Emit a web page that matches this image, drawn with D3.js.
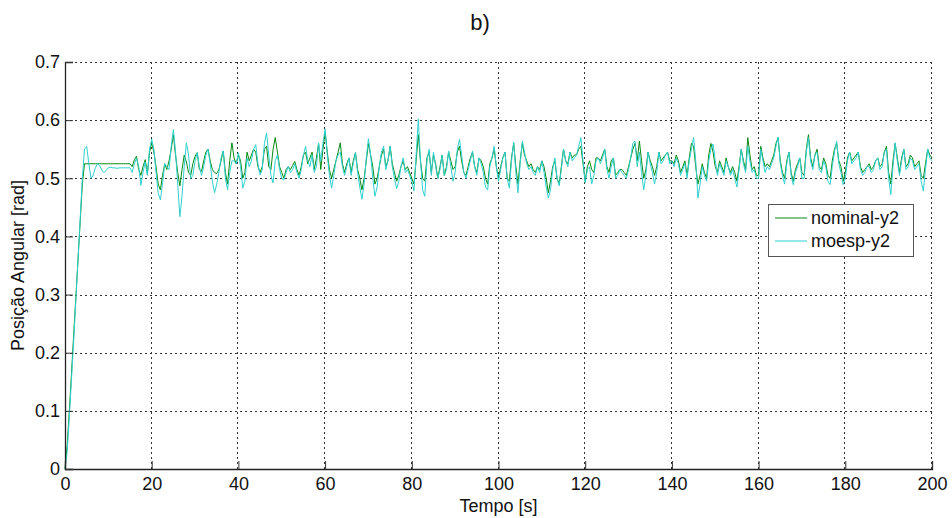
<!DOCTYPE html>
<html>
<head>
<meta charset="utf-8">
<script src="https://cdn.jsdelivr.net/npm/d3@7"></script>
<style>
  body { margin: 0; background: #fff; }
  text { font-family: "Liberation Sans", Arial, sans-serif; fill: #111; }
</style>
</head>
<body>
<div id="chart"></div>
<script>
// time samples every 0.5 s, 0..200
const tempo = d3.range(0, 200.5, 0.5);

const xTicks = [0, 20, 40, 60, 80, 100, 120, 140, 160, 180, 200];
const yTicks = [0, 0.1, 0.2, 0.3, 0.4, 0.5, 0.6, 0.7];
const seriesNames = ["nominal-y2", "moesp-y2"];

// nominal-y2, one row per 10 s
const nominal = [
  0,0.04,0.10,0.165,0.23,0.295,0.36,0.425,0.49,0.525,0.525,0.525,0.525,0.525,0.525,0.525,0.525,0.525,0.525,0.525,
  0.525,0.525,0.525,0.525,0.525,0.525,0.525,0.525,0.525,0.525,0.525,0.52,0.532,0.538,0.515,0.505,0.52,0.532,0.508,0.545,
  0.561,0.545,0.52,0.49,0.48,0.505,0.525,0.515,0.53,0.55,0.575,0.54,0.51,0.487,0.515,0.54,0.528,0.51,0.505,0.525,
  0.538,0.544,0.515,0.512,0.53,0.545,0.55,0.53,0.515,0.51,0.508,0.515,0.53,0.547,0.51,0.49,0.53,0.561,0.535,0.525,
  0.54,0.53,0.5,0.51,0.545,0.53,0.54,0.55,0.545,0.52,0.51,0.52,0.55,0.555,0.52,0.515,0.55,0.57,0.545,0.52,
  0.51,0.5,0.515,0.52,0.515,0.522,0.529,0.515,0.505,0.52,0.54,0.545,0.525,0.535,0.545,0.515,0.535,0.56,0.515,0.55,
  0.58,0.545,0.515,0.5,0.515,0.53,0.545,0.561,0.525,0.51,0.525,0.535,0.51,0.53,0.544,0.515,0.5,0.48,0.5,0.53,
  0.56,0.54,0.52,0.49,0.5,0.52,0.54,0.55,0.52,0.53,0.555,0.525,0.51,0.495,0.505,0.52,0.53,0.515,0.52,0.51,
  0.5,0.49,0.53,0.575,0.53,0.5,0.495,0.535,0.545,0.51,0.54,0.525,0.5,0.52,0.54,0.505,0.52,0.545,0.53,0.515,
  0.52,0.545,0.555,0.53,0.51,0.505,0.52,0.535,0.545,0.52,0.51,0.535,0.53,0.52,0.5,0.49,0.525,0.535,0.55,0.52,
  0.5,0.52,0.535,0.545,0.5,0.495,0.535,0.56,0.52,0.49,0.53,0.56,0.54,0.53,0.52,0.525,0.515,0.51,0.52,0.515,
  0.53,0.52,0.5,0.475,0.495,0.52,0.53,0.5,0.49,0.52,0.55,0.53,0.525,0.545,0.535,0.54,0.54,0.55,0.555,0.525,
  0.495,0.52,0.53,0.515,0.51,0.535,0.535,0.53,0.54,0.55,0.52,0.51,0.53,0.535,0.505,0.51,0.515,0.515,0.51,0.505,
  0.52,0.535,0.55,0.56,0.53,0.564,0.53,0.5,0.515,0.545,0.53,0.52,0.505,0.52,0.545,0.53,0.535,0.54,0.545,0.53,
  0.53,0.525,0.54,0.53,0.51,0.52,0.53,0.505,0.535,0.56,0.555,0.52,0.49,0.505,0.525,0.51,0.5,0.54,0.56,0.545,
  0.52,0.51,0.53,0.52,0.51,0.535,0.52,0.51,0.52,0.51,0.495,0.52,0.55,0.53,0.515,0.57,0.54,0.515,0.52,0.505,
  0.505,0.555,0.535,0.52,0.525,0.52,0.53,0.54,0.56,0.57,0.53,0.51,0.5,0.53,0.545,0.51,0.495,0.515,0.525,0.535,
  0.51,0.505,0.55,0.575,0.535,0.52,0.54,0.55,0.52,0.515,0.535,0.525,0.505,0.5,0.53,0.55,0.56,0.53,0.52,0.495,
  0.51,0.535,0.545,0.53,0.535,0.54,0.545,0.52,0.51,0.515,0.52,0.525,0.515,0.52,0.53,0.535,0.52,0.525,0.545,0.555,
  0.51,0.49,0.53,0.56,0.535,0.51,0.535,0.55,0.52,0.525,0.54,0.535,0.52,0.525,0.53,0.505,0.5,0.525,0.55,0.54,
  0.535
];

// moesp-y2, one row per 10 s
const moesp = [
  0,0.03,0.09,0.155,0.22,0.29,0.36,0.43,0.50,0.55,0.555,0.525,0.50,0.505,0.518,0.525,0.522,0.514,0.51,0.514,
  0.518,0.519,0.518,0.518,0.517,0.518,0.518,0.518,0.518,0.518,0.518,0.51,0.525,0.535,0.52,0.488,0.51,0.528,0.505,0.55,
  0.567,0.55,0.51,0.475,0.463,0.49,0.525,0.52,0.515,0.555,0.584,0.545,0.49,0.434,0.47,0.52,0.561,0.54,0.5,0.505,
  0.53,0.544,0.52,0.505,0.52,0.54,0.55,0.525,0.495,0.475,0.49,0.51,0.535,0.547,0.5,0.48,0.51,0.53,0.53,0.525,
  0.544,0.52,0.483,0.495,0.535,0.52,0.53,0.55,0.558,0.525,0.506,0.515,0.56,0.578,0.54,0.505,0.492,0.53,0.54,0.515,
  0.5,0.497,0.51,0.52,0.51,0.515,0.525,0.51,0.5,0.515,0.54,0.555,0.53,0.52,0.54,0.51,0.52,0.561,0.53,0.56,
  0.585,0.54,0.505,0.483,0.505,0.53,0.54,0.545,0.52,0.505,0.52,0.535,0.505,0.525,0.544,0.51,0.485,0.464,0.49,0.535,
  0.568,0.54,0.5,0.469,0.485,0.52,0.545,0.555,0.515,0.53,0.555,0.52,0.5,0.482,0.495,0.52,0.535,0.51,0.515,0.505,
  0.495,0.478,0.54,0.602,0.53,0.48,0.469,0.53,0.55,0.505,0.545,0.52,0.5,0.515,0.54,0.505,0.515,0.547,0.52,0.495,
  0.51,0.55,0.567,0.54,0.51,0.5,0.515,0.53,0.547,0.52,0.505,0.535,0.525,0.51,0.485,0.48,0.52,0.535,0.555,0.52,
  0.495,0.515,0.535,0.545,0.5,0.483,0.53,0.562,0.51,0.475,0.525,0.564,0.545,0.525,0.515,0.52,0.51,0.505,0.52,0.51,
  0.53,0.51,0.485,0.466,0.48,0.515,0.535,0.5,0.487,0.515,0.55,0.53,0.52,0.545,0.53,0.535,0.54,0.555,0.57,0.53,
  0.492,0.515,0.52,0.49,0.505,0.53,0.535,0.525,0.535,0.55,0.515,0.5,0.52,0.535,0.5,0.505,0.515,0.51,0.505,0.5,
  0.515,0.535,0.56,0.564,0.52,0.545,0.51,0.48,0.505,0.545,0.525,0.51,0.49,0.51,0.545,0.525,0.53,0.54,0.545,0.525,
  0.53,0.52,0.535,0.525,0.505,0.515,0.525,0.5,0.53,0.55,0.57,0.53,0.466,0.49,0.52,0.505,0.495,0.53,0.55,0.559,
  0.53,0.505,0.525,0.515,0.505,0.53,0.52,0.505,0.515,0.5,0.485,0.515,0.55,0.525,0.51,0.555,0.53,0.51,0.515,0.5,
  0.5,0.55,0.53,0.51,0.52,0.515,0.525,0.535,0.555,0.571,0.525,0.505,0.49,0.525,0.545,0.505,0.489,0.51,0.52,0.535,
  0.5,0.5,0.545,0.57,0.53,0.515,0.54,0.545,0.515,0.51,0.53,0.52,0.495,0.489,0.52,0.545,0.564,0.525,0.51,0.489,
  0.5,0.53,0.545,0.525,0.53,0.535,0.545,0.515,0.505,0.51,0.52,0.52,0.51,0.515,0.53,0.535,0.515,0.52,0.545,0.55,
  0.5,0.472,0.52,0.561,0.53,0.505,0.53,0.55,0.515,0.52,0.535,0.53,0.515,0.52,0.525,0.495,0.478,0.515,0.55,0.535,
  0.53
];

const colors = ["#078a14", "#2fd0d0"];

const W = 952, H = 518;
const margin = { top: 62, right: 20, bottom: 49, left: 65 };
const width = W - margin.left - margin.right;
const height = H - margin.top - margin.bottom;

const svg = d3.select("#chart").append("svg")
  .attr("width", W)
  .attr("height", H);

const g = svg.append("g")
  .attr("transform", `translate(${margin.left},${margin.top})`);

const x = d3.scaleLinear().domain([0, 200]).range([0, width]);
const y = d3.scaleLinear().domain([0, 0.7]).range([height, 0]);

const gridStyle = sel => sel
  .style("stroke", "#333")
  .style("stroke-dasharray", "2,3");

// grid
g.selectAll("line.gx")
  .data(xTicks.slice(1))
  .enter().append("line")
  .attr("class", "gx")
  .attr("x1", d => Math.round(x(d)) - 0.5)
  .attr("x2", d => Math.round(x(d)) - 0.5)
  .attr("y1", 0).attr("y2", height)
  .call(gridStyle);

g.selectAll("line.gy")
  .data(yTicks.slice(1))
  .enter().append("line")
  .attr("class", "gy")
  .attr("y1", d => Math.round(y(d)) + 0.5)
  .attr("y2", d => Math.round(y(d)) + 0.5)
  .attr("x1", 0).attr("x2", width)
  .call(gridStyle);

// lines
const line = d3.line()
  .x((d, i) => x(tempo[i]))
  .y(d => y(d));

[nominal, moesp].forEach((s, i) => {
  g.append("path")
    .datum(s)
    .attr("d", line)
    .style("fill", "none")
    .style("stroke", colors[i])
    .style("stroke-width", 1);
});

// axes (bottom + left solid, with inward ticks)
const xAxis = g.append("g")
  .attr("transform", `translate(0,${height})`)
  .call(d3.axisBottom(x).tickValues(xTicks).tickSize(-8).tickPadding(8).tickFormat(d3.format("d")));
const yAxis = g.append("g")
  .call(d3.axisLeft(y).tickValues(yTicks).tickSize(-8).tickPadding(5).tickFormat(d => d === 0 ? "0" : d3.format(".1f")(d)));

[xAxis, yAxis].forEach(a => {
  a.select(".domain").style("stroke", "#222").style("stroke-width", 1.3);
  a.selectAll(".tick line").style("stroke", "#333");
  a.selectAll("text")
    .style("font-size", "18px")
    .style("font-family", "'Liberation Sans', Arial, sans-serif")
    .style("fill", "#111");
});

// axis labels
svg.append("text")
  .attr("x", margin.left + width / 2)
  .attr("y", 512)
  .attr("text-anchor", "middle")
  .style("font-size", "18px")
  .text("Tempo [s]");

svg.append("text")
  .attr("transform", `translate(24,${margin.top + height / 2}) rotate(-90)`)
  .attr("text-anchor", "middle")
  .style("font-size", "18px")
  .text("Posição Angular [rad]");

// title
svg.append("text")
  .attr("x", 480)
  .attr("y", 30)
  .attr("text-anchor", "middle")
  .style("font-size", "22px")
  .text("b)");

// legend
const leg = svg.append("g").attr("transform", "translate(768,204)");
leg.append("rect")
  .attr("x", 0.5).attr("y", 0.5)
  .attr("width", 145).attr("height", 52)
  .style("fill", "#fff")
  .style("stroke", "#555");

seriesNames.forEach((name, i) => {
  const yy = 14 + i * 23;
  leg.append("line")
    .attr("x1", 7).attr("x2", 39)
    .attr("y1", yy).attr("y2", yy)
    .style("stroke", colors[i])
    .style("stroke-width", 1);
  leg.append("text")
    .attr("x", 43)
    .attr("y", yy + 6)
    .style("font-size", "18px")
    .text(name);
});
</script>
</body>
</html>
